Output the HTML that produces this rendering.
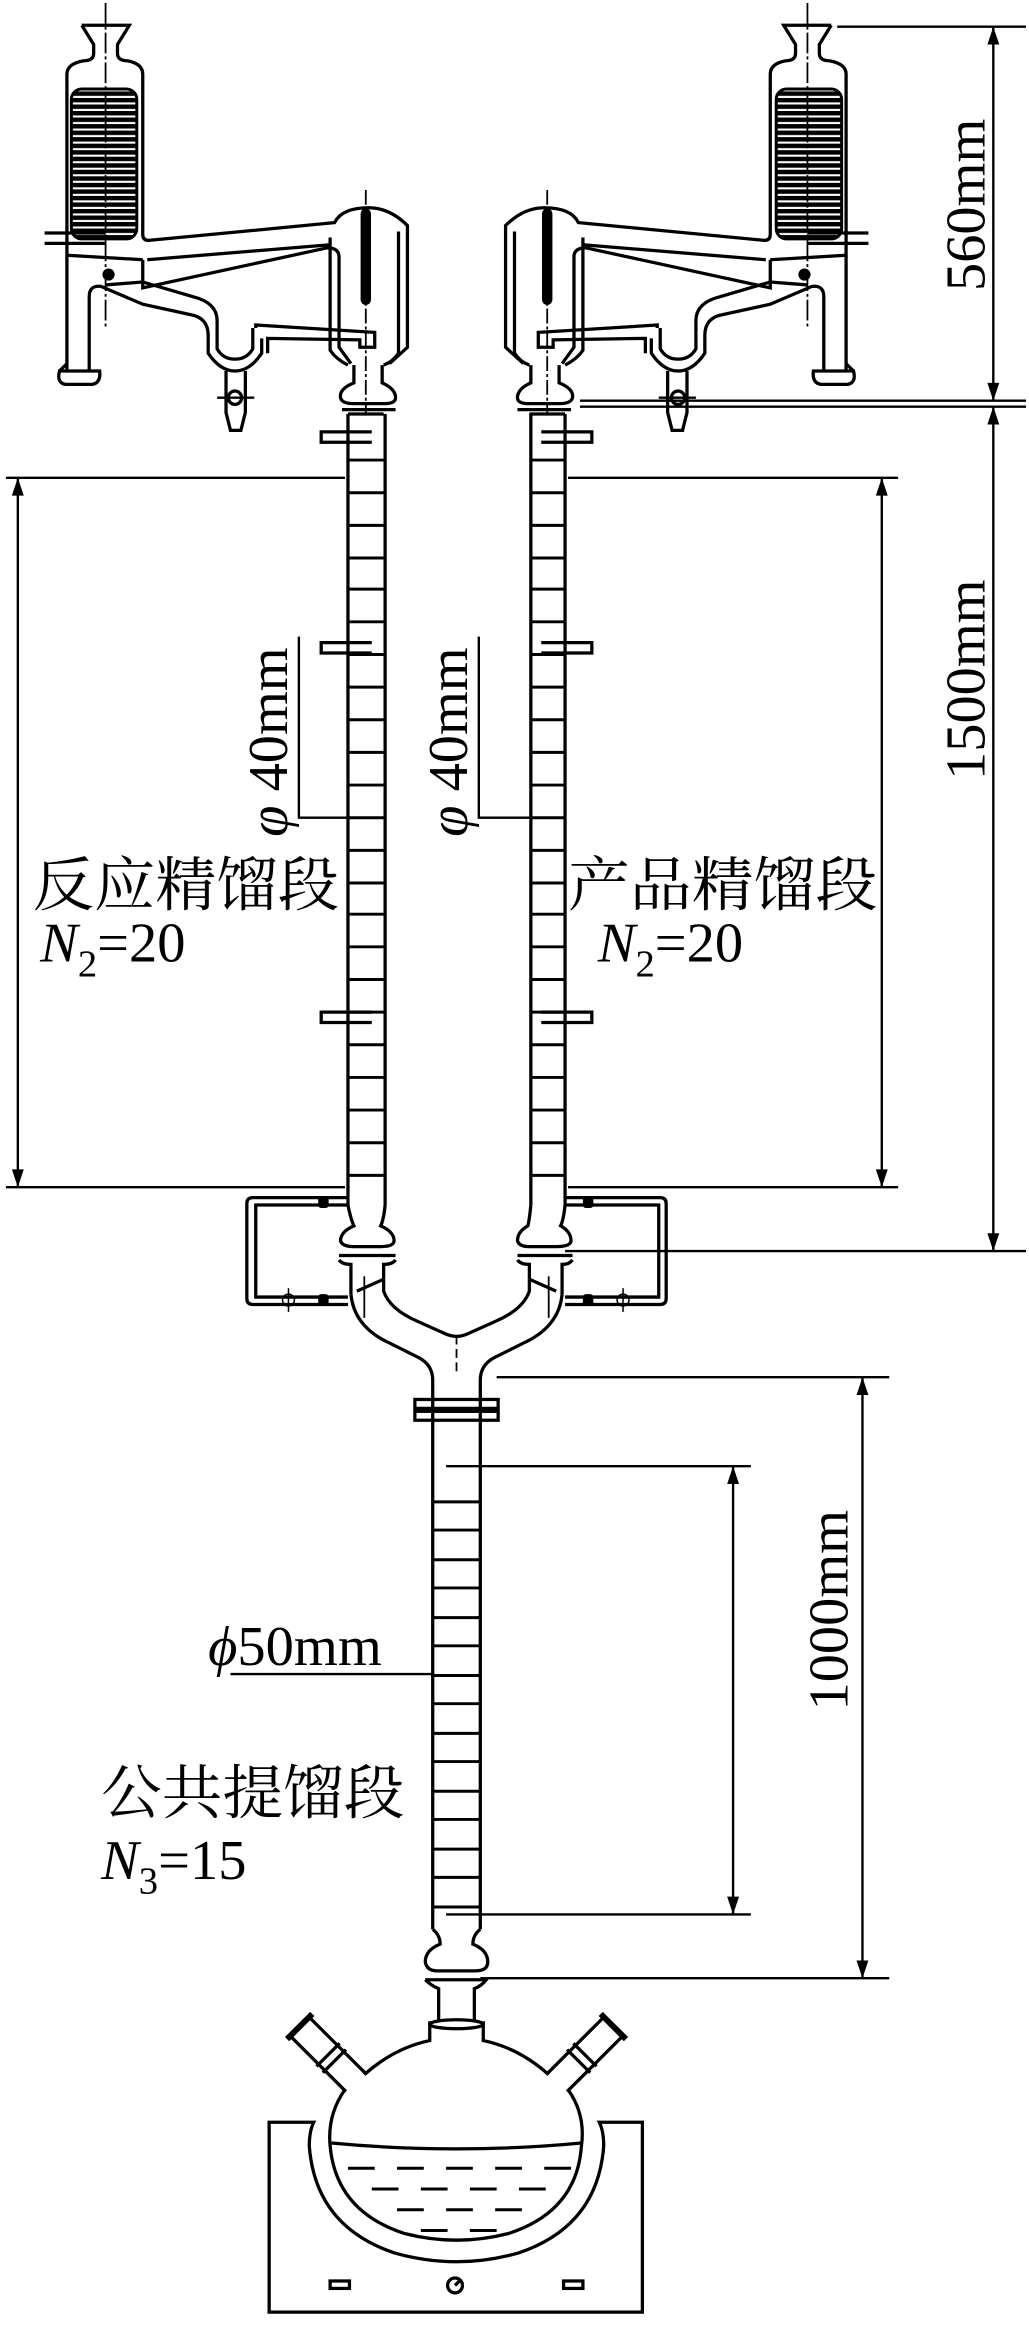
<!DOCTYPE html>
<html><head><meta charset="utf-8"><style>
html,body{margin:0;padding:0;background:#fff;}
svg{display:block;}
text{font-family:"Liberation Serif","Noto Serif CJK SC","Noto Sans CJK SC",serif;fill:#000;}
</style></head><body>
<svg width="1029" height="2327" viewBox="0 0 692 1568" preserveAspectRatio="none" xmlns="http://www.w3.org/2000/svg">
<defs>
<pattern id="coil" width="10" height="4.4" patternUnits="userSpaceOnUse">
<rect x="0" y="0" width="10" height="3" fill="#000"/>
</pattern>
<g id="cond" fill="none" stroke="#000" stroke-width="2.2">
  <path d="M55,17 L87,17 L79,30 L79,36 Q79,41 86,41 Q96,43 96,50 L96,158"/>
  <path d="M55,17 L63,30 L63,36 Q63,41 56,41 Q45,43 45,50 L45,250"/>
  <line x1="71" y1="2" x2="71" y2="222" stroke-width="1.2" stroke-dasharray="14,2,2,2"/>
  <rect x="48" y="60" width="44" height="101" rx="7" fill="url(#coil)" stroke="#000" stroke-width="2"/>
  <line x1="30" y1="157" x2="71" y2="157"/>
  <line x1="30" y1="164" x2="71" y2="164"/>
  <path d="M45,172 L96,175"/>
  <path d="M96,158 Q96,162 100,162 L225,150 Q230,140 248,140 Q262,140 274,152 L274,234 L262,245"/>
  <path d="M96,175 L96,194 L220,167 Q228,167 228,173 L228,234 L236,245"/>
  <path d="M99,175 L221,165"/>
  <path d="M222,160 L222,236 Q226,242 234,246"/>
  <path d="M268,156 L268,238 Q264,244 258,246"/>
  <path d="M238,246 L238,258 Q228,262 229,268 Q230,272 238,272 L258,272 Q266,272 266,268 Q266,262 257,258 L257,246"/>
  <path d="M230,276 L266,276"/>
  <path d="M234,279 L258,279"/>
  <rect x="243" y="141" width="6" height="64" rx="3" fill="#000" stroke-width="1"/>
  <line x1="246" y1="128" x2="246" y2="280" stroke-width="1.2" stroke-dasharray="10,2,2,2"/>
  <path d="M172,221 L172,219 L252,224 L252,234 L242,234 L242,229 L180,228 L180,238"/>
  <path d="M60,250 L60,200 Q60,192 68,193 L96,205 L128,212 Q140,214 140,226 L140,238 Q148,250 158,250 Q168,250 176,238 L176,228"/>
  <path d="M71,192 L96,190 L130,200 Q146,204 146,216 L146,235 Q150,242 158,242 Q166,242 170,235 L170,221"/>
  <path d="M60,250 L40,250 Q38,258 44,259 L62,259 Q68,258 67,250 Z" />
  <path d="M45,245 L40,250"/>
  <path d="M152,250 L152,278 L155,290 L162,290 L165,278 L165,250"/>
  <circle cx="158" cy="268" r="4.5"/>
  <line x1="146" y1="268" x2="171" y2="268" stroke-width="1.6"/>
  <circle cx="73" cy="185" r="3" fill="#000"/>
</g>
<g id="sneck" fill="none" stroke="#000" stroke-width="2.2">
  <path d="M-9,0 L-9,-52 M9,0 L9,-52"/>
  <path d="M-11,-20 L11,-20 M-11,-26 L11,-26"/>
  <line x1="-12" y1="-53" x2="12" y2="-53" stroke-width="4"/>
</g>
</defs>
<rect width="692" height="1568" fill="#fff"/>

<use href="#cond"/>
<use href="#cond" transform="translate(614,0) scale(-1,1)"/>

<g fill="none" stroke="#000" stroke-width="2.2">
  <line x1="234" y1="279" x2="234" y2="812"/>
  <line x1="259" y1="279" x2="259" y2="812"/>
  <line x1="357" y1="279" x2="357" y2="812"/>
  <line x1="380" y1="279" x2="380" y2="812"/>
  <path d="M250,291 L216,291 L216,298 L250,298"/>
  <path d="M250,433 L216,433 L216,440 L250,440"/>
  <path d="M250,682 L216,682 L216,689 L250,689"/>
  <path d="M364,291 L398,291 L398,298 L364,298"/>
  <path d="M364,433 L398,433 L398,440 L364,440"/>
  <path d="M364,682 L398,682 L398,689 L364,689"/>
</g>
<g stroke="#000" stroke-width="2">
  <path d="M234,310h25M234,332h25M234,354h25M234,376h25M234,397h25M234,419h25M234,441h25M234,463h25M234,485h25M234,507h25M234,529h25M234,551h25M234,573h25M234,595h25M234,616h25M234,638h25M234,660h25M234,682h25M234,704h25M234,726h25M234,748h25M234,770h25M234,792h25"/>
  <path d="M357,310h23M357,332h23M357,354h23M357,376h23M357,397h23M357,419h23M357,441h23M357,463h23M357,485h23M357,507h23M357,529h23M357,551h23M357,573h23M357,595h23M357,616h23M357,638h23M357,660h23M357,682h23M357,704h23M357,726h23M357,748h23M357,770h23M357,792h23"/>
  <path d="M291,1012h32M291,1031h32M291,1051h32M291,1070h32M291,1090h32M291,1109h32M291,1129h32M291,1148h32M291,1168h32M291,1187h32M291,1207h32M291,1226h32M291,1246h32M291,1265h32M291,1285h32"/>
</g>

<g fill="none" stroke="#000" stroke-width="2.2">
  <path d="M234,812 Q236,822 238,826 Q229,830 229,836 Q230,840 238,840 L256,840 Q265,840 265,836 Q265,830 256,826 Q258,822 259,812"/>
  <path d="M228,849 Q230,852 236,852 L236,872"/>
  <path d="M266,849 Q264,852 258,852 L258,862"/>
  <line x1="228" y1="846" x2="266" y2="846"/>
  <path d="M357,812 Q356,822 355,826 Q348,830 348,836 Q349,840 356,840 L374,840 Q384,840 384,836 Q384,830 377,826 Q379,822 380,812"/>
  <path d="M385,849 Q383,852 378,852 L378,872"/>
  <path d="M348,849 Q350,852 356,852 L356,862"/>
  <line x1="348" y1="846" x2="385" y2="846"/>
  <path d="M236,872 Q238,894 262,905 L282,915 Q291,920 291,930 L291,1300"/>
  <path d="M378,872 Q376,894 352,905 L332,915 Q323,920 323,930 L323,1300"/>
  <path d="M258,862 L258,870 Q262,882 280,890 L300,899 Q307,902 314,899 L334,890 Q352,882 356,870 L356,862"/>
  <path d="M240,870 L258,862 M356,862 L374,870"/>
  <line x1="307" y1="900" x2="307" y2="924" stroke-width="1.2" stroke-dasharray="6,3"/>
  <line x1="245" y1="860" x2="245" y2="888" stroke-width="1.2"/>
  <line x1="369" y1="860" x2="369" y2="888" stroke-width="1.2"/>
  <rect x="279" y="943" width="56" height="6"/>
  <rect x="279" y="951" width="56" height="6"/>
  <path d="M234,807 L170,807 Q166,807 166,811 L166,875 Q166,879 170,879 L234,879"/>
  <path d="M234,812 L172,812 L172,874 L234,874"/>
  <path d="M380,807 L444,807 Q448,807 448,811 L448,875 Q448,879 444,879 L380,879"/>
  <path d="M380,812 L443,812 L443,874 L380,874"/>
</g>
<g fill="#000">
  <rect x="214" y="806" width="7" height="8" rx="2"/>
  <rect x="214" y="872" width="7" height="8" rx="2"/>
  <rect x="392" y="806" width="7" height="8" rx="2"/>
  <rect x="392" y="872" width="7" height="8" rx="2"/>
</g>
<g fill="none" stroke="#000" stroke-width="1">
  <circle cx="194" cy="876" r="4"/><line x1="194" y1="868" x2="194" y2="884"/>
  <circle cx="419" cy="876" r="4"/><line x1="419" y1="868" x2="419" y2="884"/>
</g>

<g fill="none" stroke="#000" stroke-width="2.2">
  <path d="M291,1300 Q296,1304 296,1310 Q286,1314 286,1322 Q287,1328 294,1328 L320,1328 Q328,1328 328,1322 Q328,1314 318,1310 Q318,1304 323,1300"/>
  <path d="M286,1334 L327,1334 Q324,1338 319,1340 L319,1362 M286,1334 Q290,1338 295,1340 L295,1362"/>
  <ellipse cx="307" cy="1364" rx="18" ry="3"/>
  <path d="M289,1362 L289,1375 Q265,1380 245,1398"/>
  <path d="M325,1362 L325,1375 Q349,1380 369,1398"/>
  <path d="M232,1408 Q220,1425 222,1446 Q226,1490 272,1505 Q307,1514 342,1505 Q388,1490 391,1446 Q394,1425 382,1408"/>
  <path d="M223,1444 Q307,1452 391,1444"/>
  <path d="M181,1558 L181,1430 L211,1430 Q208,1436 208,1446 Q212,1500 265,1518 Q307,1530 349,1518 Q402,1500 406,1446 Q406,1436 403,1430 L432,1430 L432,1558 Z"/>
  <rect x="222" y="1537" width="13" height="5"/>
  <rect x="379" y="1537" width="13" height="5"/>
  <circle cx="306" cy="1540" r="5"/>
  <line x1="306" y1="1540" x2="309" y2="1537"/>
</g>
<use href="#sneck" transform="translate(239,1403) rotate(-45)"/>
<use href="#sneck" transform="translate(375,1403) rotate(45)"/>
<g stroke="#000" stroke-width="2">
  <path d="M234,1461h18M267,1461h18M300,1461h18M333,1461h18M366,1461h18"/>
  <path d="M250,1475h18M283,1475h18M316,1475h18M349,1475h18"/>
  <path d="M267,1489h18M300,1489h18M333,1489h18"/>
  <path d="M283,1503h18M316,1503h18"/>
</g>

<g stroke="#000" stroke-width="1.6" fill="none">
  <line x1="563" y1="18" x2="690" y2="18"/>
  <line x1="390" y1="270" x2="690" y2="270"/>
  <line x1="390" y1="274" x2="690" y2="274"/>
  <line x1="380" y1="843" x2="690" y2="843"/>
  <line x1="668" y1="18" x2="668" y2="270"/>
  <line x1="668" y1="274" x2="668" y2="843"/>
  <line x1="4" y1="322" x2="232" y2="322"/>
  <line x1="4" y1="800" x2="232" y2="800"/>
  <line x1="12" y1="322" x2="12" y2="800"/>
  <line x1="382" y1="322" x2="604" y2="322"/>
  <line x1="382" y1="800" x2="604" y2="800"/>
  <line x1="593" y1="322" x2="593" y2="800"/>
  <line x1="334" y1="928" x2="598" y2="928"/>
  <line x1="323" y1="1333" x2="598" y2="1333"/>
  <line x1="580" y1="928" x2="580" y2="1333"/>
  <line x1="300" y1="988" x2="505" y2="988"/>
  <line x1="300" y1="1290" x2="505" y2="1290"/>
  <line x1="493" y1="988" x2="493" y2="1290"/>
  <path d="M201,429 L201,551 L258,551"/>
  <path d="M322,429 L322,551 L380,551"/>
  <line x1="155" y1="1128" x2="291" y2="1128"/>
</g>
<g fill="#000">
  <path d="M668,18 l-4,12 h8z M668,270 l-4,-12 h8z M668,274 l-4,12 h8z M668,843 l-4,-12 h8z"/>
  <path d="M12,322 l-4,12 h8z M12,800 l-4,-12 h8z M593,322 l-4,12 h8z M593,800 l-4,-12 h8z"/>
  <path d="M580,928 l-4,12 h8z M580,1333 l-4,-12 h8z M493,988 l-4,12 h8z M493,1290 l-4,-12 h8z"/>
</g>

<g font-size="38">
  <text transform="translate(662,138) rotate(-90)" text-anchor="middle">560mm</text>
  <text transform="translate(662,458) rotate(-90)" text-anchor="middle">1500mm</text>
  <text transform="translate(570,1085) rotate(-90)" text-anchor="middle">1000mm</text>
  <text transform="translate(193,500) rotate(-90)" text-anchor="middle"><tspan font-style="italic">φ</tspan> 40mm</text>
  <text transform="translate(314,500) rotate(-90)" text-anchor="middle"><tspan font-style="italic">φ</tspan> 40mm</text>
  <text x="140" y="1122"><tspan font-style="italic">ϕ</tspan>50mm</text>
</g>
<g font-size="40">
  <text x="22" y="610" textLength="206" lengthAdjust="spacingAndGlyphs">反应精馏段</text>
  <text x="382" y="610" textLength="208" lengthAdjust="spacingAndGlyphs">产品精馏段</text>
  <text x="68" y="1222" textLength="204" lengthAdjust="spacingAndGlyphs">公共提馏段</text>
</g>
<g font-size="38">
  <text x="27" y="648"><tspan font-style="italic">N</tspan><tspan font-size="26" dy="10">2</tspan><tspan dy="-10">=20</tspan></text>
  <text x="402" y="648"><tspan font-style="italic">N</tspan><tspan font-size="26" dy="10">2</tspan><tspan dy="-10">=20</tspan></text>
  <text x="68" y="1266"><tspan font-style="italic">N</tspan><tspan font-size="26" dy="10">3</tspan><tspan dy="-10">=15</tspan></text>
</g>
</svg>
</body></html>
